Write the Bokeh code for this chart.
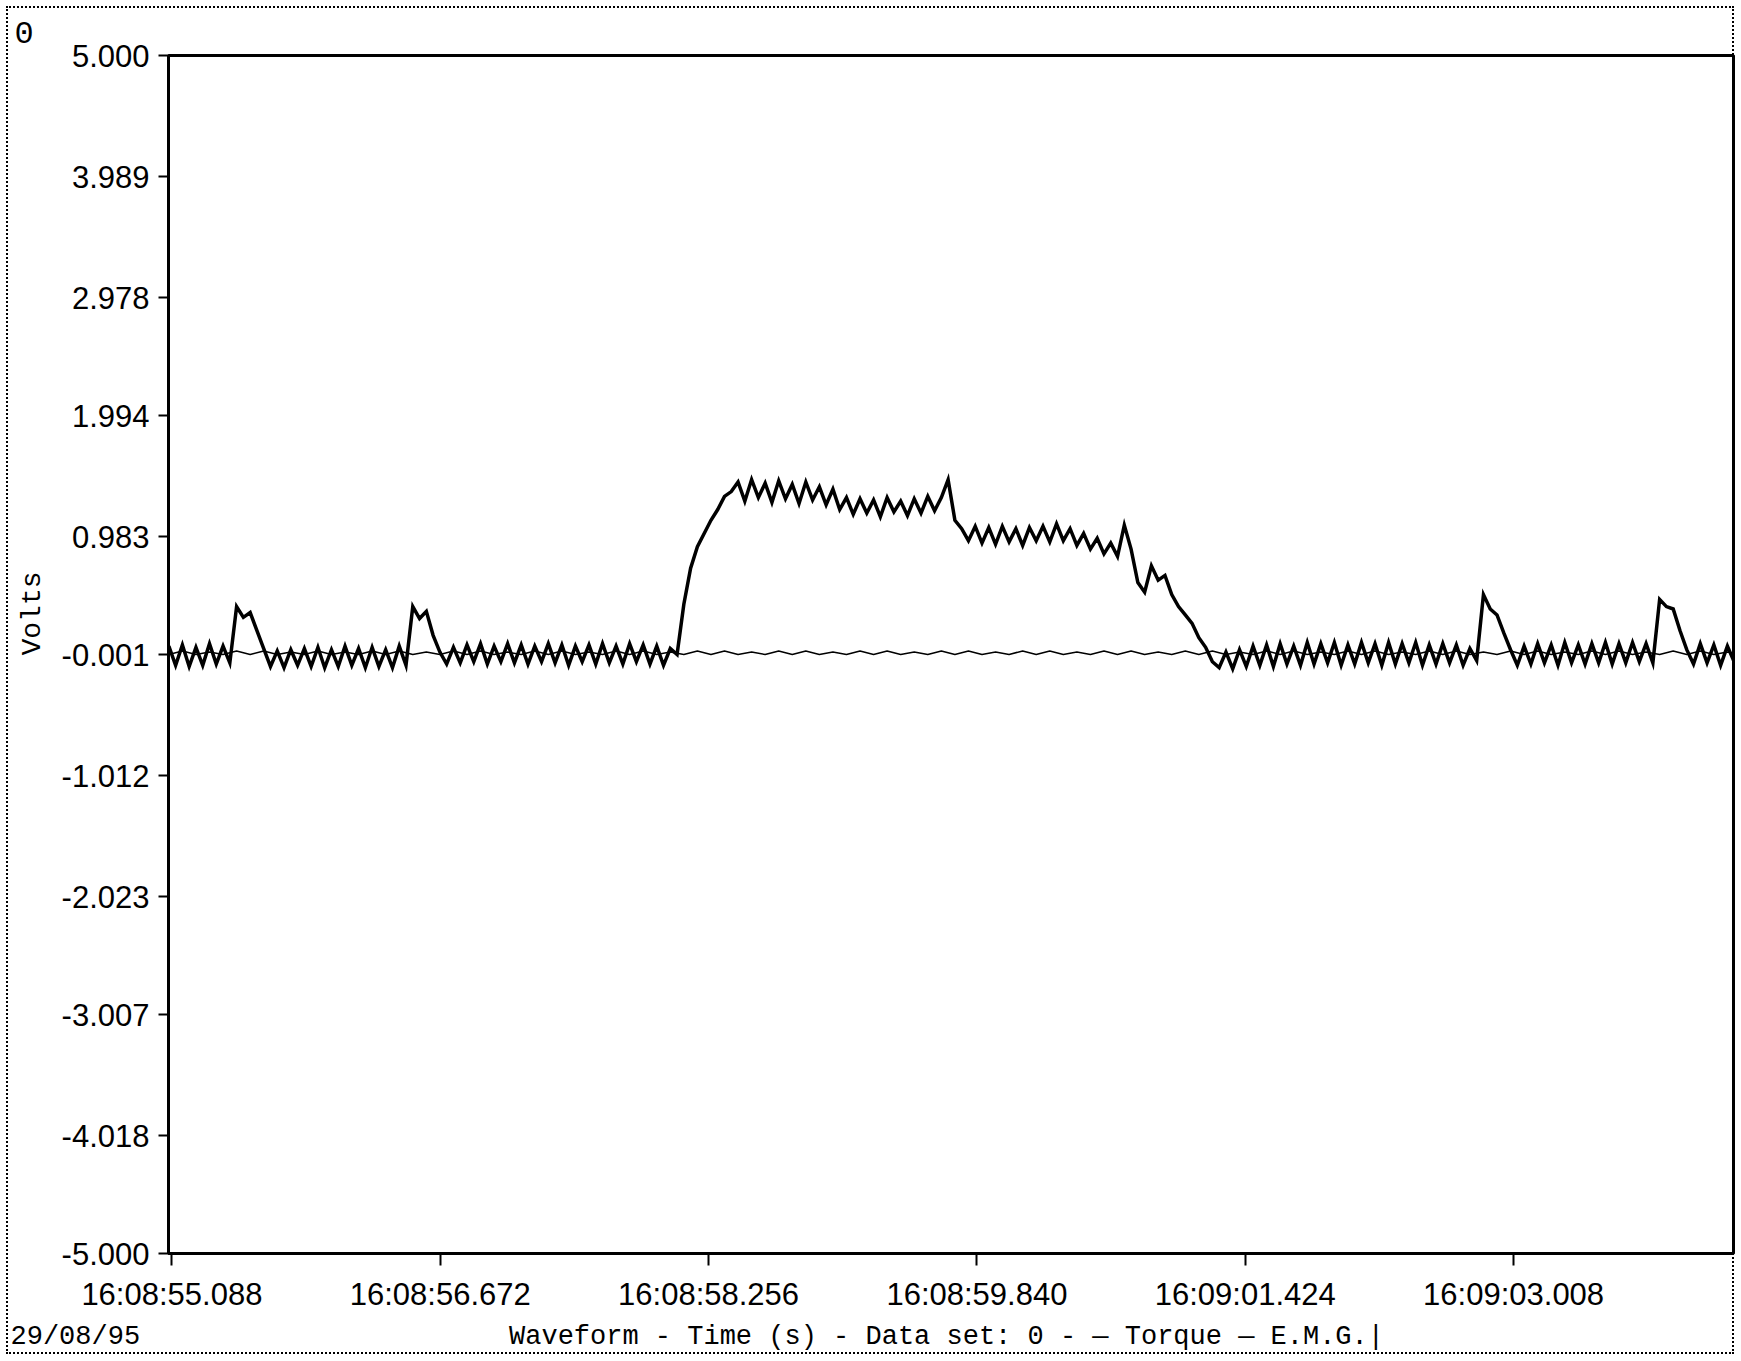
import numpy as np
from bokeh.plotting import figure
from bokeh.layouts import column, row
from bokeh.models import FixedTicker, NumeralTickFormatter, Label, Range1d
from bokeh.embed import file_html
from bokeh.resources import INLINE

# ---------------- data ----------------
x_tick_values = [55.088, 56.672, 58.256, 59.840, 61.424, 63.008]
x_tick_labels = ["16:08:55.088", "16:08:56.672", "16:08:58.256",
                 "16:08:59.840", "16:09:01.424", "16:09:03.008"]
y_tick_values = [5.000, 3.989, 2.978, 1.994, 0.983, -0.001,
                 -1.012, -2.023, -3.007, -4.018, -5.000]

# Torque trace, sampled every 0.04 s from 55.07 s (seconds after 16:08:00)
torque_start = 55.07
torque_step = 0.04
torque = [
    0.07, -0.09, 0.08, -0.10, 0.06, -0.09, 0.09, -0.08, 0.07, -0.07,
    0.40, 0.31, 0.35, 0.20, 0.05, -0.10, 0.03, -0.11, 0.04, -0.09,
    0.05, -0.10, 0.06, -0.11, 0.04, -0.10, 0.07, -0.09, 0.05, -0.11,
    0.06, -0.10, 0.04, -0.11, 0.07, -0.09, 0.40, 0.30, 0.36, 0.16,
    0.02, -0.08, 0.06, -0.07, 0.08, -0.06, 0.09, -0.08, 0.07, -0.06,
    0.09, -0.07, 0.08, -0.08, 0.07, -0.06, 0.09, -0.07, 0.08, -0.09,
    0.07, -0.06, 0.08, -0.08, 0.09, -0.07, 0.07, -0.08, 0.09, -0.06,
    0.08, -0.08, 0.07, -0.09, 0.05, 0.00, 0.42, 0.72, 0.90, 1.01,
    1.12, 1.21, 1.32, 1.36, 1.44, 1.28, 1.46, 1.31, 1.43, 1.27,
    1.45, 1.30, 1.42, 1.26, 1.44, 1.29, 1.40, 1.25, 1.38, 1.21,
    1.31, 1.17, 1.30, 1.18, 1.29, 1.15, 1.31, 1.19, 1.28, 1.16,
    1.30, 1.18, 1.32, 1.20, 1.31, 1.46, 1.12, 1.05, 0.95, 1.07,
    0.93, 1.06, 0.92, 1.07, 0.94, 1.05, 0.91, 1.06, 0.95, 1.07,
    0.94, 1.09, 0.95, 1.05, 0.91, 1.01, 0.88, 0.97, 0.84, 0.93,
    0.82, 1.08, 0.88, 0.60, 0.52, 0.74, 0.62, 0.66, 0.50, 0.40,
    0.33, 0.26, 0.14, 0.06, -0.06, -0.11, 0.02, -0.12, 0.04, -0.10,
    0.07, -0.09, 0.08, -0.10, 0.09, -0.08, 0.07, -0.09, 0.10, -0.08,
    0.09, -0.07, 0.10, -0.09, 0.08, -0.08, 0.10, -0.07, 0.09, -0.09,
    0.10, -0.08, 0.09, -0.07, 0.10, -0.09, 0.08, -0.08, 0.09, -0.07,
    0.08, -0.09, 0.05, -0.05, 0.50, 0.38, 0.33, 0.18, 0.04, -0.09,
    0.07, -0.08, 0.09, -0.07, 0.08, -0.09, 0.10, -0.07, 0.08, -0.08,
    0.09, -0.07, 0.10, -0.08, 0.09, -0.07, 0.10, -0.06, 0.09, -0.07,
    0.46, 0.40, 0.38, 0.20, 0.04, -0.08, 0.09, -0.07, 0.08, -0.09,
    0.07, -0.06,
]

# E.M.G. trace, sampled every 0.08 s from 55.07 s
emg_start = 55.07
emg_step = 0.08
emg = [
    0.00, 0.03, 0.00, 0.02, 0.00, 0.03, 0.00, 0.03, 0.00, 0.02,
    0.00, 0.03, 0.00, 0.02, 0.00, 0.03, 0.00, 0.03, 0.00, 0.02,
    0.00, 0.03, 0.00, 0.03, 0.00, 0.02, 0.00, 0.03, 0.00, 0.03,
    0.00, 0.02, 0.00, 0.03, 0.00, 0.03, 0.00, 0.02, 0.00, 0.03,
    0.00, 0.03, 0.00, 0.02, 0.00, 0.03, 0.00, 0.03, 0.00, 0.02,
    0.00, 0.03, 0.00, 0.03, 0.00, 0.02, 0.00, 0.03, 0.00, 0.03,
    0.00, 0.02, 0.00, 0.03, 0.00, 0.03, 0.00, 0.02, 0.00, 0.03,
    0.00, 0.03, 0.00, 0.02, 0.00, 0.03, 0.00, 0.03, 0.00, 0.02,
    0.00, 0.03, 0.00, 0.03, 0.00, 0.02, 0.00, 0.03, 0.00, 0.03,
    0.00, 0.02, 0.00, 0.03, 0.00, 0.03, 0.00, 0.02, 0.00, 0.03,
    0.00, 0.03, 0.00, 0.02, 0.00, 0.03, 0.00, 0.03, 0.00, 0.02,
    0.00, 0.03, 0.00, 0.03, 0.00, 0.02, 0.00,
]

corner_text = "0"
date_text = "29/08/95"
footer_text = "Waveform - Time (s) - Data set: 0 - \u2014 Torque \u2014 E.M.G.|"
y_label_text = "Volts"

# ---------------- layout sizes ----------------
W, H = 1740, 1360
LEFT_W = 58              # strip holding "0" and "Volts"
MAIN_H = 1315            # main plot height
FOOT_H = H - MAIN_H      # footer strip
FRAME_TOP, FRAME_BOTTOM = 55, 1253
TICK_FONT = "Liberation Sans"
MONO_FONT = "Liberation Mono"


def strip(width, height):
    s = figure(width=width, height=height, output_backend="svg",
               toolbar_location=None, x_axis_type=None, y_axis_type=None,
               x_range=Range1d(0, width), y_range=Range1d(0, height),
               min_border=0)
    s.outline_line_color = None
    s.background_fill_color = None
    s.border_fill_color = None
    s.xgrid.grid_line_color = None
    s.ygrid.grid_line_color = None
    return s


# ---------------- main figure ----------------
torque_t = torque_start + torque_step * np.arange(len(torque))
emg_t = emg_start + emg_step * np.arange(len(emg))

p = figure(width=W - LEFT_W, height=MAIN_H, output_backend="svg",
           toolbar_location=None,
           x_range=Range1d(55.068, 64.306), y_range=Range1d(-5.0, 5.0),
           min_border_left=168 - LEFT_W, min_border_right=7,
           min_border_top=FRAME_TOP, min_border_bottom=MAIN_H - FRAME_BOTTOM)

p.background_fill_color = "white"
p.border_fill_color = None
p.outline_line_color = "black"
p.outline_line_width = 3
p.xgrid.grid_line_color = None
p.ygrid.grid_line_color = None

p.line(emg_t, emg, line_color="black", line_width=1.5)
p.line(torque_t, torque, line_color="black", line_width=3.5,
       line_join="miter")

for ax in (p.xaxis[0], p.yaxis[0]):
    ax.axis_line_color = "black"
    ax.axis_line_width = 3
    ax.major_tick_line_color = "black"
    ax.major_tick_line_width = 2
    ax.major_tick_in = 0
    ax.minor_tick_line_color = None
    ax.major_label_text_font = TICK_FONT
    ax.major_label_text_font_size = "31px"
    ax.major_label_text_color = "black"

p.xaxis.ticker = FixedTicker(ticks=x_tick_values)
p.xaxis.major_label_overrides = {v: s for v, s in zip(x_tick_values, x_tick_labels)}
p.xaxis.major_tick_out = 12
p.xaxis.major_label_standoff = 11

p.yaxis.ticker = FixedTicker(ticks=y_tick_values)
p.yaxis.formatter = NumeralTickFormatter(format="0.000")
p.yaxis.major_tick_out = 10
p.yaxis.major_label_standoff = 9

# ---------------- left strip: "0" and "Volts" ----------------
left = strip(LEFT_W, MAIN_H)
foot = strip(W, FOOT_H)
aligned = True
if "frame_align" in left.properties():
    left.frame_align = False
    foot.frame_align = False
    aligned = False
# y measured from the bottom of the strip's frame
left_bottom = FRAME_BOTTOM if aligned else MAIN_H

left.add_layout(Label(x=14, y=left_bottom - 32, x_units="screen", y_units="screen",
                      text=corner_text, text_align="left", text_baseline="middle",
                      text_font=MONO_FONT, text_font_size="32px",
                      text_color="black"))
left.add_layout(Label(x=32, y=left_bottom - 613, x_units="screen", y_units="screen",
                      text=y_label_text, angle=np.pi / 2, text_align="center",
                      text_baseline="middle", text_font=MONO_FONT,
                      text_font_size="28px", text_color="black"))

# ---------------- footer strip ----------------
foot.add_layout(Label(x=10, y=FOOT_H - 21, x_units="screen", y_units="screen",
                      text=date_text, text_align="left", text_baseline="middle",
                      text_font=MONO_FONT, text_font_size="27px",
                      text_color="black"))
foot.add_layout(Label(x=946, y=FOOT_H - 21, x_units="screen", y_units="screen",
                      text=footer_text, text_align="center",
                      text_baseline="middle", text_font=MONO_FONT,
                      text_font_size="27px", text_color="black"))

layout = column(row(left, p, spacing=0), foot, spacing=0)
layout.styles = {"outline": "2px dotted black", "outline-offset": "-8px",
                 "background-color": "white"}

open("out.html", "w").write(file_html(layout, INLINE))
